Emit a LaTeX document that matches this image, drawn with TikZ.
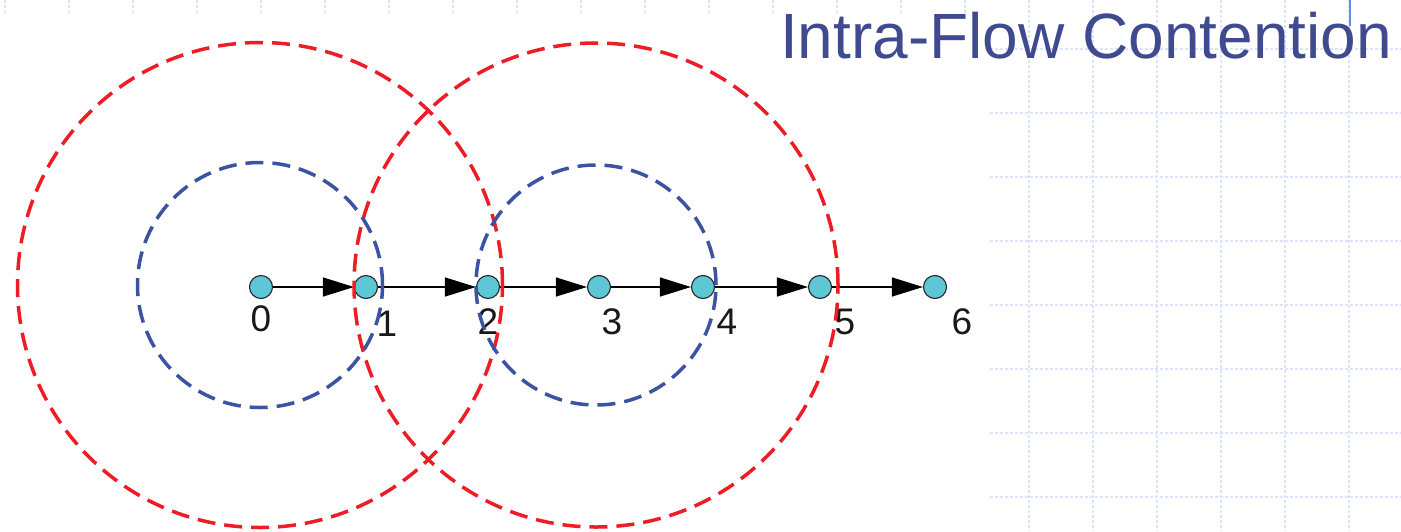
\documentclass[tikz,border=0pt]{standalone}
\usepackage{fontspec}
\setmainfont{Liberation Sans}
\usetikzlibrary{arrows.meta}
\definecolor{gridc}{HTML}{DCE4FA}
\definecolor{titlec}{HTML}{404A8E}
\definecolor{redc}{HTML}{EE1C25}
\definecolor{bluec}{HTML}{3B53A2}
\definecolor{nodec}{HTML}{5EC7D6}
\definecolor{accentc}{HTML}{6A8AE8}
\begin{document}
\begin{tikzpicture}[x=1pt,y=-1pt,
  gridline/.style={draw=gridc,line width=1.1pt,dash pattern=on 3pt off 2pt},
  titletext/.style={text=titlec,font=\fontsize{64}{70}\selectfont,inner sep=0pt},
  station/.style={circle,draw=black!85,line width=1.1pt,fill=nodec,minimum size=23pt,inner sep=0pt},
  hop/.style={draw=black,line width=1.3pt,-{Triangle[length=31pt,width=19pt]}},
  numlabel/.style={font=\fontsize{37}{40}\selectfont,inner sep=0pt,text=black!90},
  bigrange/.style={draw=redc,line width=3.5pt,dash pattern=on 18pt off 9pt},
  smallrange/.style={draw=bluec,line width=3.5pt,dash pattern=on 18pt off 9pt}]
\useasboundingbox (0,0) rectangle (1401,531);
\fill[white] (0,0) rectangle (1401,531);
% background grid
\foreach \i in {0,...,21} \draw[gridline] ({5+64*\i},0) -- ({5+64*\i},531);
\foreach \j in {0,...,7} \draw[gridline] (0,{49+64*\j}) -- (1401,{49+64*\j});
\fill[white] (0,14) rectangle (989,531);
\draw[accentc,line width=1.3pt] (1350,0) -- (1350,26);
% title
\node[titletext,anchor=base west] (title) at (780,58) {Intra-Flow Contention};
% stations
\node[station] (n0) at (261,287) {};
\node[station] (n1) at (366,287) {};
\node[station] (n2) at (488,287) {};
\node[station] (n3) at (599,287) {};
\node[station] (n4) at (703,287) {};
\node[station] (n5) at (820,287) {};
\node[station] (n6) at (935,287) {};
% hops
\draw[hop] (n0) -- (n1);
\draw[hop] (n1) -- (n2);
\draw[hop] (n2) -- (n3);
\draw[hop] (n3) -- (n4);
\draw[hop] (n4) -- (n5);
\draw[hop] (n5) -- (n6);
% labels
\node[numlabel] (l0) at (261,319) {0};
\node[numlabel] (l1) at (387,324) {1};
\node[numlabel] (l2) at (488,322) {2};
\node[numlabel] (l3) at (612,322) {3};
\node[numlabel] (l4) at (727,322) {4};
\node[numlabel] (l5) at (845,322) {5};
\node[numlabel] (l6) at (962,322) {6};
% ranges
\coordinate (c1) at (260,285);
\coordinate (c2) at (596,285);
\draw[bigrange] (c1) circle[radius=242.5pt];
\draw[bigrange] (c2) circle[radius=242pt];
\draw[smallrange] (c1) circle[radius=122.5pt];
\draw[smallrange] (c2) circle[radius=120pt];
\end{tikzpicture}
\end{document}
